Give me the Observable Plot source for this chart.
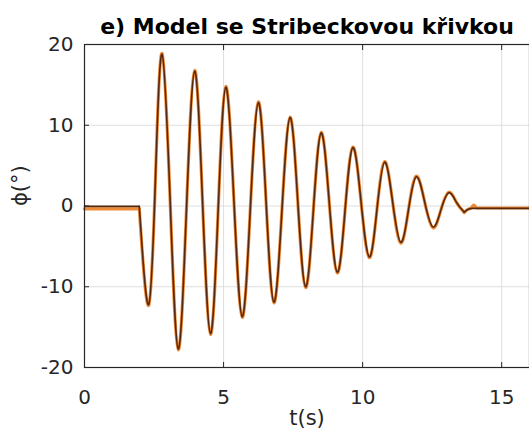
<!DOCTYPE html>
<html>
<head>
<meta charset="utf-8">
<script src="https://cdn.jsdelivr.net/npm/d3@7"></script>
<script src="https://cdn.jsdelivr.net/npm/@observablehq/plot@0.6"></script>
<style>
  html, body { margin: 0; padding: 0; background: #fff; }
  #chart svg { display: block; }
</style>
</head>
<body>
<div id="chart"></div>
<script>
// ---- text ----
const titleText = "e) Model se Stribeckovou křivkou";
const xLabel = "t(s)";
const yLabel = "ϕ(°)";

// ---- ticks ----
const xTicks = [0, 5, 10, 15];
const yTicks = [-20, -10, 0, 10, 20];
const xDomain = [0, 16];
const yDomain = [-20, 20];

// ---- rest before release ----
const tStart = [0, 1.97];
const phiStartDark = [-0.05, -0.05];
const phiStartOrange = [-0.35, -0.35];

// ---- oscillation (extrema and mid-swing points) ----
const tSwing = [1.97, 2.31, 2.55, 2.79, 3.08, 3.37, 3.665, 3.96, 4.245, 4.53, 4.805, 5.08, 5.375, 5.67, 5.96, 6.25, 6.53, 6.81, 7.10, 7.39, 7.67, 7.95, 8.23, 8.51, 8.80, 9.09, 9.37, 9.65, 9.945, 10.24, 10.515, 10.79, 11.08, 11.37, 11.65, 11.93, 12.23, 12.53, 12.815, 13.1, 13.375, 13.65];
const phiSwingDark = [-0.05, -12.2, 3.3, 18.8, 0.55, -17.7, -0.5, 16.7, 0.45, -15.8, -0.55, 14.7, 0.5, -13.7, -0.45, 12.8, 0.45, -11.9, -0.48, 10.95, 0.48, -10.0, -0.48, 9.05, 0.43, -8.2, -0.48, 7.24, 0.47, -6.3, -0.44, 5.43, 0.47, -4.5, -0.44, 3.62, 0.51, -2.6, -0.48, 1.65, 0.45, -0.75];
const phiSwingOrange = [-0.35, -12.3, 3.3, 18.9, 0.55, -17.8, -0.5, 16.8, 0.45, -15.9, -0.55, 14.8, 0.5, -13.8, -0.45, 12.9, 0.45, -12.0, -0.48, 11.0, 0.48, -10.1, -0.48, 9.1, 0.43, -8.3, -0.48, 7.3, 0.47, -6.4, -0.44, 5.5, 0.47, -4.6, -0.44, 3.7, 0.51, -2.7, -0.48, 1.7, 0.45, -0.8];

// ---- settling ----
const tEndDark = [13.65, 13.8, 13.95, 16];
const phiEndDark = [-0.75, -0.4, -0.3, -0.3];
const tEndOrange = [13.65, 13.8, 13.9, 14.0, 14.1, 16];
const phiEndOrange = [-0.8, -0.4, -0.25, 0.1, -0.25, -0.25];

const orange = "#ec8a36";
const dark = "#55280f";

const rows = (ts, ps) => ts.map((t, i) => ({t, phi: ps[i]}));

function seriesMarks(tS, pS, tW, pW, tE, pE, color, width) {
  const common = {x: "t", y: "phi", stroke: color, strokeWidth: width, strokeLinejoin: "round", strokeLinecap: "round"};
  return [
    Plot.line(rows(tS, pS), {...common, curve: "linear"}),
    Plot.line(rows(tW, pW), {...common, curve: "natural"}),
    Plot.line(rows(tE, pE), {...common, curve: "monotone-x"})
  ];
}

const fmt = (d) => String(d);

const chart = Plot.plot({
  width: 529,
  height: 443,
  marginLeft: 84,
  marginRight: 0,
  marginTop: 44,
  marginBottom: 76,
  style: {fontFamily: "'DejaVu Sans', sans-serif", background: "#fff", color: "#262626"},
  x: {domain: xDomain},
  y: {domain: yDomain},
  marks: [
    Plot.gridX(xTicks, {stroke: "#dedede", strokeOpacity: 1}),
    Plot.gridY(yTicks, {stroke: "#dedede", strokeOpacity: 1}),
    // inward tick marks (MATLAB style)
    Plot.axisX(xTicks, {anchor: "bottom", tickSize: -5, tickFormat: () => "", label: null, stroke: "#262626"}),
    Plot.axisX(xTicks, {anchor: "top", tickSize: -5, tickFormat: () => "", label: null, stroke: "#262626"}),
    Plot.axisY(yTicks, {anchor: "left", tickSize: -5, tickFormat: () => "", label: null, stroke: "#262626"}),
    // tick labels
    Plot.axisX(xTicks, {anchor: "bottom", tickSize: 0, tickPadding: 22, fontSize: 20, label: null, fill: "#262626", tickFormat: fmt}),
    Plot.axisY(yTicks, {anchor: "left", tickSize: 0, tickPadding: 11, fontSize: 20, label: null, fill: "#262626", tickFormat: fmt}),
    ...seriesMarks(tStart, phiStartOrange, tSwing, phiSwingOrange, tEndOrange, phiEndOrange, orange, 3.2),
    ...seriesMarks(tStart, phiStartDark, tSwing, phiSwingDark, tEndDark, phiEndDark, dark, 1.6),
    Plot.frame({stroke: "#262626", strokeWidth: 1.2}),
    Plot.text([titleText], {frameAnchor: "top", dy: -18, lineAnchor: "middle", fontSize: 22, fontWeight: "bold", fill: "#000"}),
    Plot.text([xLabel], {frameAnchor: "bottom", dy: 51, lineAnchor: "middle", fontSize: 21, fill: "#262626"}),
    Plot.text([yLabel], {frameAnchor: "left", dx: -64, rotate: -90, lineAnchor: "middle", fontSize: 21, fill: "#262626"})
  ]
});
document.getElementById("chart").appendChild(chart);
</script>
</body>
</html>
